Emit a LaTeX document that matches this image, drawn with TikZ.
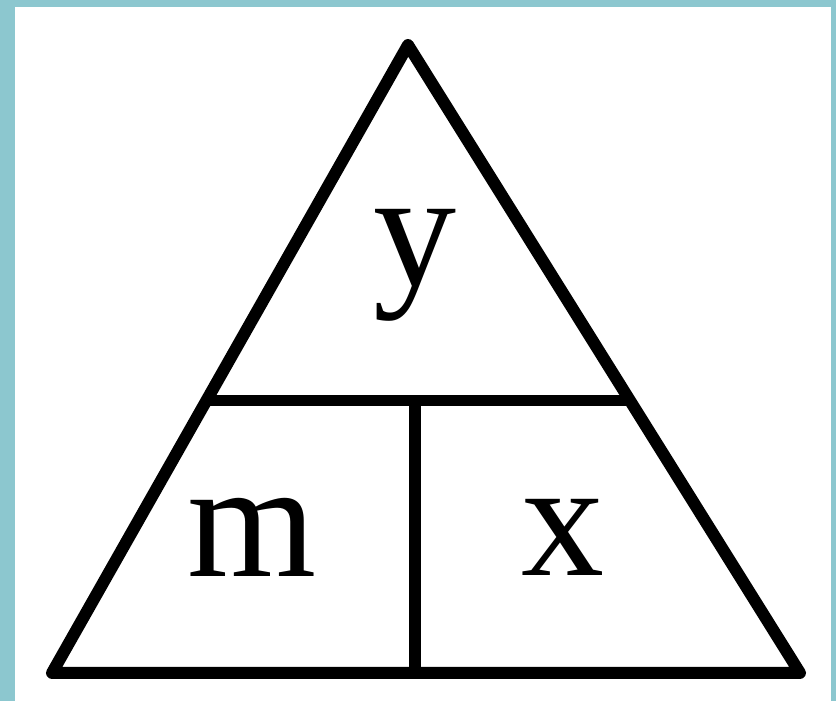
\documentclass[tikz,border=0pt]{standalone}
\usepackage{fontspec}
\setmainfont{Liberation Serif}
\usetikzlibrary{calc}
\definecolor{frameteal}{HTML}{8CC7CF}
\tikzset{
  edge/.style={line width=12pt, line join=round, line cap=butt, black},
  divider/.style={line width=11.5pt, black},
  letter/.style={anchor=base, inner sep=0pt, font=\fontsize{166}{166}\selectfont}
}
\begin{document}
\begin{tikzpicture}[x=1pt,y=1pt]
  \fill[frameteal] (0,0) rectangle (836,701);
  \fill[white] (15,0) rectangle (831,694);
  \useasboundingbox (0,0) rectangle (836,701);
  \coordinate (A) at (52,28);
  \coordinate (B) at (800,28);
  \coordinate (C) at (408,656);
  \coordinate (L) at ($(A)!0.4339!(C)$);
  \coordinate (R) at ($(B)!0.4339!(C)$);
  \coordinate (M) at (415,300.5);
  \coordinate (N) at (415,28);
  \draw[edge] (A) -- (B) -- (C) -- cycle;
  \draw[divider] (L) -- (R);
  \draw[divider] (M) -- (N);
  \node[letter] (ty) at (415,415) {y};
  \node[letter] (tm) at (252,124) {m};
  \node[letter] (tx) at (563,125) {x};
\end{tikzpicture}
\end{document}
